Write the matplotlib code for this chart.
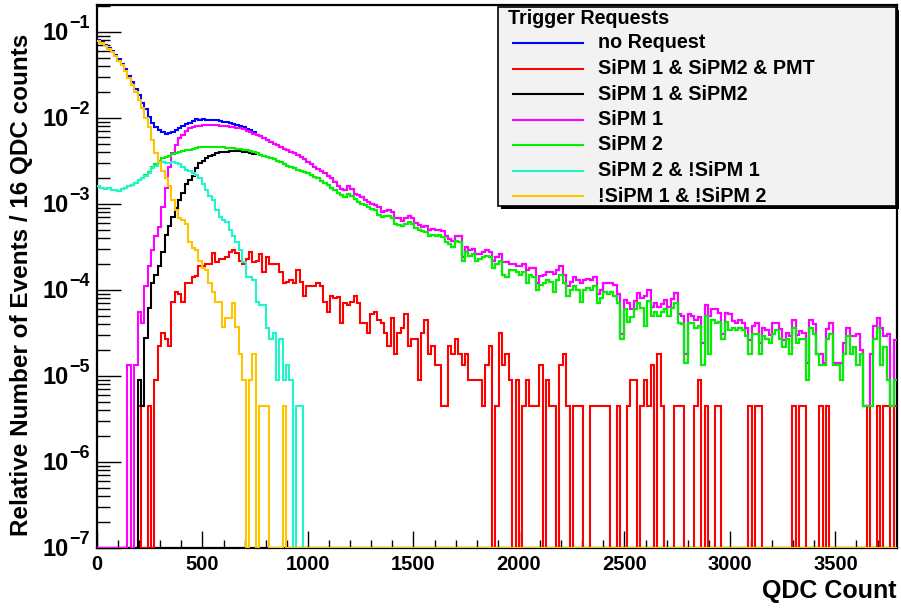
import numpy as np
import matplotlib
matplotlib.use("Agg")
import matplotlib.pyplot as plt
from matplotlib.patches import Rectangle
from matplotlib.lines import Line2D
from matplotlib.ticker import LogLocator, MultipleLocator, NullFormatter, FixedLocator
from matplotlib.transforms import blended_transform_factory, ScaledTranslation

plt.rcParams.update({
    'font.family': ['Liberation Sans', 'DejaVu Sans'],
    'font.weight': 'bold',
})

# ---------------- data (relative number of events per 16-QDC-count bin) ----------------
BIN_WIDTH = 16
N_BINS = 237

# !SiPM 1 & !SiPM 2  (bins 0..55, empty afterwards)
no_sipm = [7.9e-2, 7.5e-2, 6.9e-2, 6.3e-2, 5.8e-2, 5.2e-2, 4.6e-2, 4.1e-2, 3.5e-2, 2.9e-2,
           2.4e-2, 2.0e-2, 1.6e-2, 1.3e-2, 1.0e-2, 7.9e-3, 5.6e-3, 3.9e-3, 3.1e-3, 2.4e-3,
           2.0e-3, 1.6e-3, 1.1e-3, 8.5e-4, 6.8e-4, 6.5e-4, 5.8e-4, 3.6e-4, 3.1e-4, 2.9e-4,
           2.2e-4, 1.8e-4, 1.7e-4, 1.2e-4, 9.5e-5, 7.2e-5, 7.2e-5, 3.7e-5, 4.7e-5, 4.7e-5,
           7.0e-5, 3.7e-5, 1.8e-5, 9.0e-6, 0, 9.0e-6, 1.8e-5, 0, 4.5e-6, 4.5e-6,
           4.5e-6, 0, 0, 0, 0, 4.5e-6]

# SiPM 2 & !SiPM 1  (bins 0..60)
sipm2_only = [1.6e-3, 1.55e-3, 1.5e-3, 1.55e-3, 1.45e-3, 1.45e-3, 1.4e-3, 1.5e-3, 1.55e-3, 1.6e-3,
              1.65e-3, 1.75e-3, 1.9e-3, 2.0e-3, 2.1e-3, 2.3e-3, 2.6e-3, 2.8e-3, 3.0e-3, 3.1e-3,
              3.0e-3, 3.0e-3, 3.05e-3, 3.0e-3, 2.9e-3, 2.7e-3, 2.5e-3, 2.4e-3, 2.3e-3, 2.2e-3,
              2.0e-3, 1.7e-3, 1.45e-3, 1.25e-3, 1.1e-3, 8.5e-4, 7.1e-4, 6.5e-4, 6.2e-4, 5.0e-4,
              4.3e-4, 3.6e-4, 2.9e-4, 2.1e-4, 1.4e-4, 1.4e-4, 1.3e-4, 7.3e-5, 6.7e-5, 6.7e-5,
              3.6e-5, 2.7e-5, 3.15e-5, 9.0e-6, 2.7e-5, 9.0e-6, 1.35e-5, 9.0e-6, 0, 4.5e-6,
              4.5e-6]

# SiPM 1 (all bins)
sipm1 = [0, 0, 0, 0, 0, 0, 0, 0, 0, 1.35e-5,
         0, 1.35e-5, 5.6e-5, 4.1e-5, 1.1e-4, 1.9e-4, 2.9e-4, 4.2e-4, 5.4e-4, 9.3e-4,
         1.55e-3, 2.7e-3, 3.9e-3, 4.8e-3, 5.8e-3, 6.3e-3, 7.1e-3, 7.6e-3, 7.9e-3, 8.1e-3,
         8.1e-3, 8.2e-3, 8.2e-3, 8.3e-3, 8.2e-3, 8.2e-3, 8.1e-3, 8.1e-3, 8.0e-3, 7.9e-3,
         7.8e-3, 7.7e-3, 7.6e-3, 7.4e-3, 7.1e-3, 6.9e-3, 6.6e-3, 6.3e-3, 6.1e-3, 5.9e-3,
         5.6e-3, 5.3e-3, 5.0e-3, 4.8e-3, 4.6e-3, 4.4e-3, 4.2e-3, 4.0e-3, 3.9e-3, 3.7e-3,
         3.5e-3, 3.3e-3, 3.1e-3, 2.9e-3, 2.7e-3, 2.55e-3, 2.4e-3, 2.3e-3, 2.1e-3, 2.0e-3,
         1.8e-3, 1.6e-3, 1.5e-3, 1.45e-3, 1.6e-3, 1.5e-3, 1.32e-3, 1.27e-3, 1.2e-3, 1.1e-3,
         1.06e-3, 1.0e-3, 9.7e-4, 9.2e-4, 8.1e-4, 8.3e-4, 8.5e-4, 8.1e-4, 6.8e-4, 6.8e-4,
         6.4e-4, 6.8e-4, 7.2e-4, 6.8e-4, 6.0e-4, 5.7e-4, 5.4e-4, 5.6e-4, 5.0e-4, 5.1e-4,
         5.0e-4, 5.0e-4, 4.8e-4, 4.2e-4, 3.9e-4, 3.7e-4, 4.2e-4, 4.2e-4, 2.4e-4, 3.2e-4,
         2.9e-4, 3.0e-4, 2.65e-4, 2.6e-4, 2.8e-4, 2.9e-4, 2.8e-4, 2.2e-4, 2.4e-4, 2.65e-4,
         2.1e-4, 2.1e-4, 2.0e-4, 2.0e-4, 1.9e-4, 1.9e-4, 2.0e-4, 1.7e-4, 1.8e-4, 1.8e-4,
         1.2e-4, 1.45e-4, 1.5e-4, 1.6e-4, 1.6e-4, 1.55e-4, 1.7e-4, 1.9e-4, 1.5e-4, 1.1e-4,
         1.25e-4, 1.4e-4, 1.3e-4, 1.2e-4, 1.3e-4, 1.35e-4, 1.3e-4, 1.4e-4, 9.1e-5, 1.0e-4,
         1.2e-4, 1.2e-4, 1.2e-4, 1.15e-4, 9.0e-5, 3.1e-5, 7.6e-5, 7.0e-5, 6.0e-5, 7.5e-5,
         9.2e-5, 8.0e-5, 8.5e-5, 1.0e-4, 6.4e-5, 7.0e-5, 6.4e-5, 6.8e-5, 7.6e-5, 6.4e-5,
         7.8e-5, 9.2e-5, 5.3e-5, 5.0e-5, 1.8e-5, 5.3e-5, 5.0e-5, 4.5e-5, 4.9e-5, 2.4e-5,
         6.7e-5, 5.0e-5, 6.0e-5, 6.0e-5, 5.4e-5, 3.1e-5, 5.4e-5, 5.2e-5, 4.4e-5, 4.1e-5,
         4.5e-5, 4.1e-5, 3.6e-5, 2.6e-5, 3.8e-5, 4.1e-5, 2.4e-5, 3.6e-5, 3.4e-5, 3.0e-5,
         4.1e-5, 4.1e-5, 3.5e-5, 2.6e-5, 3.2e-5, 2.9e-5, 4.5e-5, 3.0e-5, 3.3e-5, 3.2e-5,
         1.4e-5, 4.5e-5, 4.0e-5, 1.8e-5, 1.8e-5, 1.4e-5, 3.5e-5, 4.1e-5, 1.4e-5, 1.4e-5,
         1.4e-5, 2.4e-5, 3.6e-5, 2.9e-5, 2.9e-5, 3.1e-5, 2.0e-5, 4.5e-6, 4.5e-6, 1.8e-5,
         3.8e-5, 4.7e-5, 3.6e-5, 2.9e-5, 3.1e-5, 4.5e-6, 2.6e-5]

# SiPM 2 (all bins)
sipm2 = [1.6e-3, 1.55e-3, 1.5e-3, 1.55e-3, 1.45e-3, 1.45e-3, 1.4e-3, 1.5e-3, 1.55e-3, 1.6e-3,
         1.65e-3, 1.75e-3, 1.9e-3, 2.0e-3, 2.15e-3, 2.35e-3, 2.7e-3, 2.95e-3, 3.2e-3, 3.4e-3,
         3.5e-3, 3.6e-3, 3.8e-3, 3.9e-3, 4.0e-3, 4.1e-3, 4.2e-3, 4.3e-3, 4.4e-3, 4.5e-3,
         4.6e-3, 4.6e-3, 4.65e-3, 4.6e-3, 4.6e-3, 4.65e-3, 4.6e-3, 4.55e-3, 4.5e-3, 4.45e-3,
         4.5e-3, 4.4e-3, 4.4e-3, 4.3e-3, 4.25e-3, 4.15e-3, 4.0e-3, 3.9e-3, 3.75e-3, 3.6e-3,
         3.5e-3, 3.4e-3, 3.3e-3, 3.15e-3, 3.05e-3, 2.9e-3, 2.8e-3, 2.7e-3, 2.6e-3, 2.5e-3,
         2.45e-3, 2.35e-3, 2.3e-3, 2.15e-3, 2.05e-3, 2.0e-3, 1.85e-3, 1.75e-3, 1.65e-3, 1.55e-3,
         1.45e-3, 1.35e-3, 1.27e-3, 1.2e-3, 1.3e-3, 1.25e-3, 1.15e-3, 1.05e-3, 1.0e-3, 9.7e-4,
         9.2e-4, 8.8e-4, 8.5e-4, 7.5e-4, 7.0e-4, 7.2e-4, 7.3e-4, 6.8e-4, 5.8e-4, 5.7e-4,
         5.5e-4, 5.8e-4, 6.2e-4, 5.9e-4, 5.2e-4, 5.0e-4, 4.8e-4, 4.7e-4, 4.2e-4, 4.4e-4,
         4.3e-4, 4.4e-4, 4.1e-4, 3.6e-4, 3.4e-4, 3.2e-4, 3.7e-4, 3.6e-4, 2.2e-4, 2.8e-4,
         2.5e-4, 2.6e-4, 2.2e-4, 2.3e-4, 2.4e-4, 2.5e-4, 2.4e-4, 1.8e-4, 2.0e-4, 2.2e-4,
         1.5e-4, 1.4e-4, 1.7e-4, 1.7e-4, 1.6e-4, 1.5e-4, 1.6e-4, 1.2e-4, 1.5e-4, 1.4e-4,
         1.0e-4, 1.15e-4, 1.2e-4, 1.3e-4, 1.25e-4, 9.6e-5, 1.3e-4, 1.5e-4, 1.2e-4, 8.5e-5,
         1.0e-4, 1.1e-4, 1.0e-4, 7.3e-5, 1.0e-4, 1.05e-4, 1.0e-4, 1.1e-4, 7.0e-5, 8.0e-5,
         9.5e-5, 9.0e-5, 9.5e-5, 8.5e-5, 7.0e-5, 2.7e-5, 6.0e-5, 4.3e-5, 4.8e-5, 6.0e-5,
         7.0e-5, 6.2e-5, 3.8e-5, 7.5e-5, 5.0e-5, 5.5e-5, 5.0e-5, 5.5e-5, 6.0e-5, 5.0e-5,
         6.2e-5, 7.0e-5, 4.1e-5, 4.0e-5, 1.4e-5, 4.1e-5, 4.1e-5, 3.6e-5, 3.8e-5, 1.35e-5,
         5.0e-5, 1.8e-5, 4.5e-5, 4.1e-5, 4.3e-5, 2.7e-5, 4.3e-5, 3.4e-5, 3.6e-5, 3.4e-5,
         3.6e-5, 3.4e-5, 2.9e-5, 1.8e-5, 3.1e-5, 3.1e-5, 1.8e-5, 2.9e-5, 2.7e-5, 2.4e-5,
         3.1e-5, 3.4e-5, 2.7e-5, 2.2e-5, 2.7e-5, 1.8e-5, 3.6e-5, 2.4e-5, 2.7e-5, 2.7e-5,
         9.0e-6, 3.6e-5, 3.1e-5, 1.8e-5, 1.35e-5, 1.35e-5, 2.7e-5, 3.1e-5, 1.35e-5, 1.35e-5,
         9.0e-6, 1.8e-5, 2.9e-5, 1.8e-5, 2.2e-5, 1.35e-5, 1.8e-5, 4.5e-6, 4.5e-6, 4.5e-6,
         2.7e-5, 3.6e-5, 1.35e-5, 2.2e-5, 9.0e-6, 4.5e-6, 9.0e-6]

# SiPM 1 & SiPM2: rising edge read separately; above bin 46 it lies on the SiPM 2 curve
sipm12_head = [0, 0, 0, 0, 0, 0, 0, 0, 0, 0,
               0, 0, 9.0e-6, 4.5e-6, 2.8e-5, 6.2e-5, 1.2e-4, 1.5e-4, 1.9e-4, 2.8e-4,
               4.4e-4, 5.5e-4, 7.0e-4, 9.0e-4, 1.1e-3, 1.35e-3, 1.7e-3, 1.9e-3, 2.1e-3, 2.6e-3,
               3.0e-3, 3.2e-3, 3.4e-3, 3.6e-3, 3.7e-3, 3.9e-3, 4.0e-3, 4.0e-3, 4.05e-3, 4.1e-3,
               4.15e-3, 4.1e-3, 4.1e-3, 4.05e-3, 4.0e-3, 3.95e-3, 3.85e-3]
sipm12 = sipm12_head + sipm2[len(sipm12_head):]

# no Request: head read separately; above bin 46 it lies on the SiPM 1 curve
no_request_head = [8.1e-2, 7.7e-2, 7.1e-2, 6.5e-2, 6.0e-2, 5.4e-2, 4.8e-2, 4.3e-2, 3.7e-2, 3.1e-2,
                   2.6e-2, 2.2e-2, 1.85e-2, 1.5e-2, 1.27e-2, 1.04e-2, 8.8e-3, 7.9e-3, 7.3e-3, 6.8e-3,
                   6.6e-3, 6.7e-3, 6.9e-3, 7.3e-3, 7.6e-3, 8.1e-3, 8.5e-3, 8.8e-3, 9.3e-3, 9.7e-3,
                   9.6e-3, 9.7e-3, 9.6e-3, 9.5e-3, 9.5e-3, 9.4e-3, 9.2e-3, 9.0e-3, 8.9e-3, 8.7e-3,
                   8.5e-3, 8.3e-3, 8.1e-3, 7.8e-3, 7.5e-3, 7.2e-3, 6.8e-3]
no_request = no_request_head + sipm1[len(no_request_head):]

# SiPM 1 & SiPM2 & PMT (all bins)
sipm12_pmt = [0, 0, 0, 0, 0, 0, 0, 0, 0, 0,
              0, 0, 4.5e-6, 0, 0, 4.5e-6, 0, 9.0e-6, 2.25e-5, 3.15e-5,
              2.7e-5, 2.25e-5, 7.2e-5, 9.5e-5, 9.0e-5, 7.2e-5, 1.2e-4, 1.2e-4, 1.4e-4, 1.45e-4,
              1.9e-4, 1.9e-4, 2.0e-4, 2.0e-4, 2.7e-4, 2.1e-4, 2.3e-4, 2.3e-4, 2.4e-4, 2.8e-4,
              2.9e-4, 2.7e-4, 2.2e-4, 2.0e-4, 2.3e-4, 2.8e-4, 2.1e-4, 2.2e-4, 2.6e-4, 1.6e-4,
              2.4e-4, 2.0e-4, 2.0e-4, 2.0e-4, 1.6e-4, 1.2e-4, 1.25e-4, 1.3e-4, 1.2e-4, 1.7e-4,
              1.25e-4, 8.5e-5, 1.1e-4, 1.1e-4, 1.1e-4, 1.2e-4, 1.1e-4, 7.3e-5, 5.5e-5, 8.5e-5,
              8.0e-5, 8.3e-5, 4.1e-5, 7.0e-5, 6.7e-5, 7.3e-5, 8.5e-5, 7.0e-5, 4.1e-5, 4.1e-5,
              3.2e-5, 5.2e-5, 5.5e-5, 4.5e-5, 4.1e-5, 3.2e-5, 2.25e-5, 4.7e-5, 1.8e-5, 3.2e-5,
              3.6e-5, 5.2e-5, 2.25e-5, 2.7e-5, 2.7e-5, 9.0e-6, 3.15e-5, 4.5e-5, 1.8e-5, 2.25e-5,
              1.35e-5, 1.35e-5, 4.5e-6, 4.5e-6, 2.25e-5, 1.8e-5, 2.7e-5, 1.8e-5, 1.35e-5, 1.8e-5,
              9.0e-6, 9.0e-6, 9.0e-6, 9.0e-6, 4.5e-6, 1.35e-5, 2.25e-5, 0, 4.5e-6, 3.15e-5,
              1.35e-5, 1.8e-5, 9.0e-6, 0, 9.0e-6, 0, 4.5e-6, 9.0e-6, 4.5e-6, 4.5e-6,
              4.5e-6, 1.35e-5, 0, 9.0e-6, 4.5e-6, 4.5e-6, 0, 1.35e-5, 1.8e-5, 4.5e-6,
              0, 4.5e-6, 4.5e-6, 4.5e-6, 0, 0, 4.5e-6, 4.5e-6, 4.5e-6, 4.5e-6,
              4.5e-6, 4.5e-6, 0, 0, 4.5e-6, 0, 0, 4.5e-6, 9.0e-6, 9.0e-6,
              0, 4.5e-6, 9.0e-6, 4.5e-6, 1.35e-5, 0, 1.8e-5, 4.5e-6, 0, 0,
              0, 4.5e-6, 4.5e-6, 4.5e-6, 0, 0, 0, 4.5e-6, 9.0e-6, 0,
              4.5e-6, 0, 0, 4.5e-6, 4.5e-6, 0, 0, 0, 0, 0,
              0, 0, 0, 4.5e-6, 0, 4.5e-6, 4.5e-6, 0, 0, 0,
              0, 0, 0, 0, 0, 0, 4.5e-6, 0, 4.5e-6, 4.5e-6,
              0, 0, 0, 0, 4.5e-6, 0, 4.5e-6, 0, 0, 0,
              0, 0, 0, 0, 0, 0, 0, 0, 4.5e-6, 0,
              0, 4.5e-6, 0, 4.5e-6, 4.5e-6, 0, 4.5e-6]

labels = ["no Request", "SiPM 1 & SiPM2 & PMT", "SiPM 1 & SiPM2", "SiPM 1",
          "SiPM 2", "SiPM 2 & !SiPM 1", "!SiPM 1 & !SiPM 2"]
series = [no_request, sipm12_pmt, sipm12, sipm1, sipm2, sipm2_only, no_sipm]
colors = ["#0000FF", "#FF0000", "#000000", "#FF00FF", "#00F000", "#1EF5C8", "#FFC400"]

x_ticks = [0, 500, 1000, 1500, 2000, 2500, 3000, 3500]
y_ticks = [1e-7, 1e-6, 1e-5, 1e-4, 1e-3, 1e-2, 1e-1]
y_tick_exponents = ["\u22127", "\u22126", "\u22125", "\u22124", "\u22123", "\u22122", "\u22121"]
YMIN, YMAX = 1e-7, 0.206

# ---------------- figure ----------------
W, H = 901, 609
fig = plt.figure(figsize=(W / 100, H / 100), dpi=100)
fig.patch.set_facecolor('white')

def fx(px):
    return px / W

def fy(py):
    return 1 - py / H

ax = fig.add_axes([fx(97), fy(548), fx(897) - fx(97), fy(5) - fy(548)])
edges = np.arange(N_BINS + 1) * BIN_WIDTH

for vals, col in zip(series, colors):
    v = np.zeros(N_BINS)
    v[:len(vals)] = vals
    v = np.where(v > 0, v, YMIN)   # empty bins are drawn on the lower frame edge
    ax.stairs(v, edges, baseline=None, color=col, lw=1.5, zorder=3)

ax.set_yscale('log')
ax.set_xlim(0, N_BINS * BIN_WIDTH)
ax.set_ylim(YMIN, YMAX)

ax.xaxis.set_major_locator(FixedLocator(x_ticks))
ax.xaxis.set_minor_locator(MultipleLocator(100))
ax.yaxis.set_major_locator(FixedLocator(y_ticks))
ax.yaxis.set_minor_locator(LogLocator(base=10, subs=np.arange(2, 10), numticks=20))
ax.yaxis.set_minor_formatter(NullFormatter())

ax.tick_params(axis='both', which='both', direction='in', top=False, right=False,
               width=1.0, colors='black')
ax.tick_params(axis='x', which='major', length=12, pad=5, labelsize=14.5)
ax.tick_params(axis='x', which='minor', length=5.5)
ax.tick_params(axis='y', which='major', length=17, labelleft=False)
ax.tick_params(axis='y', which='minor', length=9)
for lab in ax.get_xticklabels():
    lab.set_fontweight('bold')

# y tick labels: "10" with a raised exponent
ytrans = blended_transform_factory(ax.transAxes, ax.transData)
for val, ex in zip(y_ticks, y_tick_exponents):
    sup = ax.text(0, val, ex,
                  transform=ytrans + ScaledTranslation(-7 / 100, 8 / 100, fig.dpi_scale_trans),
                  ha='right', va='center', fontsize=13, fontweight='bold', clip_on=False)
    ax.annotate("10", xy=(0, 0.5), xycoords=sup, xytext=(-0.5, -6.5),
                textcoords='offset points', ha='right', va='center', fontsize=17,
                fontweight='bold', annotation_clip=False)

for s in ax.spines.values():
    s.set_linewidth(1.6)
    s.set_zorder(2.5)

fig.text(fx(897), fy(591), "QDC Count", ha='right', va='center', fontsize=18, fontweight='bold')
fig.text(fx(22), fy(285), "Relative Number of Events / 16 QDC counts", rotation=90,
         ha='center', va='center', fontsize=17.5, fontweight='bold')

# ---------------- legend box ----------------
lx0, ly0, lx1, ly1 = 498, 7, 896, 206
shadow = Rectangle((fx(lx0 + 3), fy(ly1 + 3)), fx(lx1) - fx(lx0), fy(ly0) - fy(ly1),
                   transform=fig.transFigure, facecolor='black', edgecolor='none', zorder=9)
box = Rectangle((fx(lx0), fy(ly1)), fx(lx1) - fx(lx0), fy(ly0) - fy(ly1),
                transform=fig.transFigure, facecolor='#F2F2F2', edgecolor='black',
                linewidth=1.2, zorder=10)
fig.add_artist(shadow)
fig.add_artist(box)
fig.text(fx(508), fy(18), "Trigger Requests", ha='left', va='center', fontsize=14.2,
         fontweight='bold', zorder=11)
row_y = [43, 68.5, 94, 119.5, 145, 170.5, 196]
for lab, col, yy in zip(labels, colors, row_y):
    fig.add_artist(Line2D([fx(513), fx(583)], [fy(yy), fy(yy)], transform=fig.transFigure,
                          color=col, lw=1.5, zorder=11))
    fig.text(fx(598), fy(yy), lab, ha='left', va='center', fontsize=14.2,
             fontweight='bold', zorder=11)

fig.savefig("out.png", dpi=100)
